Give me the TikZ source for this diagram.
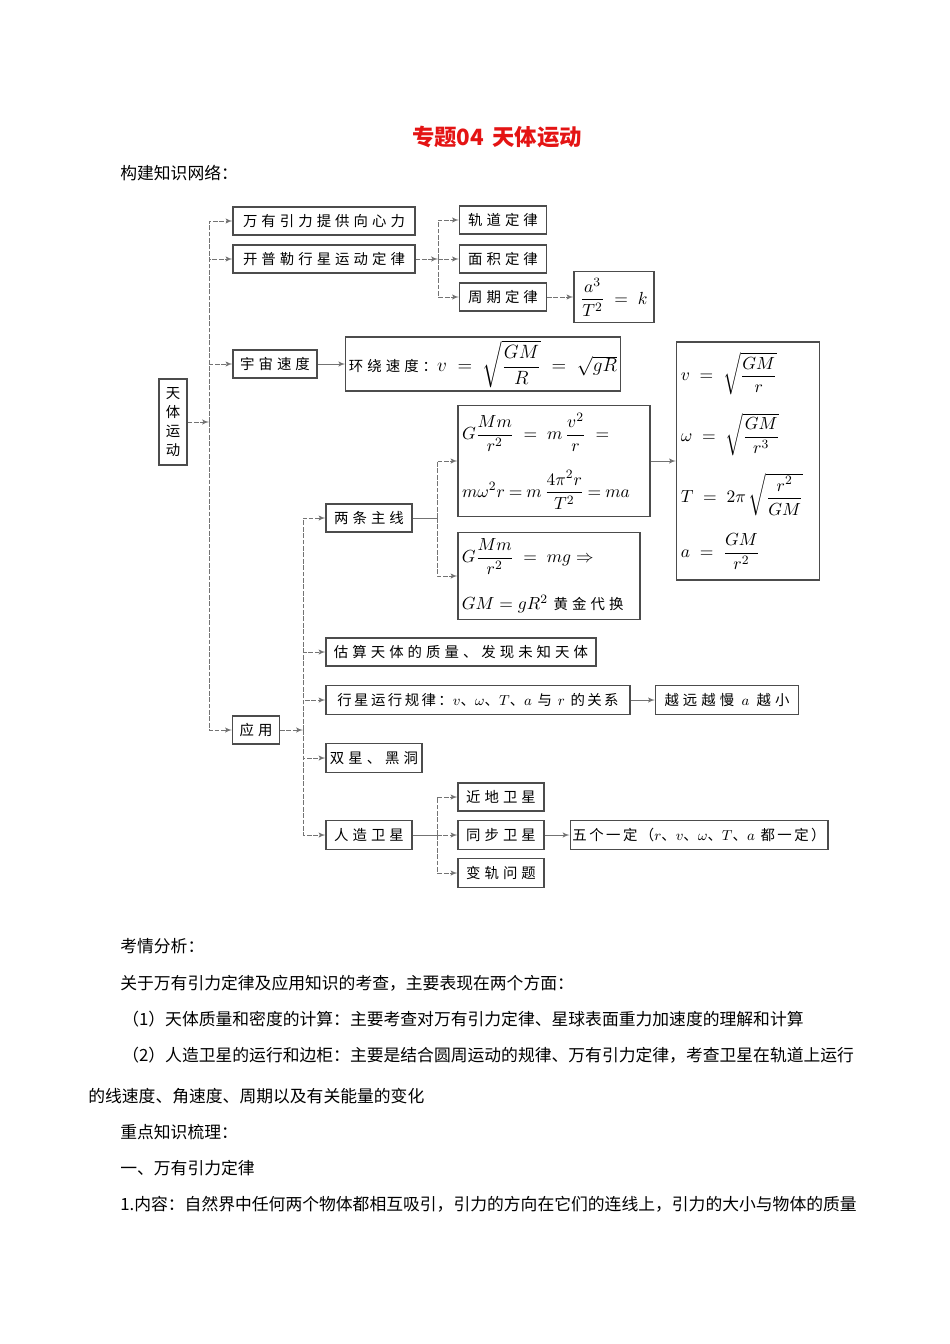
\documentclass[tikz,border=0pt]{standalone}
\usepackage{amsmath}
\usepackage{fontspec}
\setmainfont{Noto Sans CJK SC}
\newfontfamily\boxfont[LetterSpace=28]{Noto Sans CJK SC}
\newfontfamily\tightfont[LetterSpace=17]{Noto Sans CJK SC}
\usetikzlibrary{arrows, positioning, calc}
\definecolor{titlered}{RGB}{228,20,20}

\begin{document}
\begin{tikzpicture}[
        x=0.625pt, y=-0.625pt,
        wh/.style 2 args={minimum width=#1*0.625pt, minimum height=#2*0.625pt},
        box/.style={rectangle, draw=black!70, line width=0.7pt, inner sep=1.5pt, font=\boxfont\fontsize{9}{11}\selectfont},
        mbox/.style={rectangle, draw=black!70, line width=0.7pt, inner sep=2pt, align=left, font=\fontsize{11}{13}\selectfont},
        txt/.style={anchor=west, inner sep=0pt, font=\fontsize{10.5}{13}\selectfont},
        link/.style={draw=black!55, line width=0.5pt, dash pattern=on 3pt off 1pt, -latex'},
        solid link/.style={draw=black!55, line width=0.5pt, -latex'},
        bar/.style={draw=black!55, line width=0.5pt}
    ]
        \useasboundingbox (0,0) rectangle (950,1344);

        % heading
        \node[font=\fontsize{14}{16}\selectfont\bfseries, text=titlered] (title) at (497,137) {专题04\hspace{5pt}天体运动};
        \node[txt] (network) at (120,173) {构建知识网络：};

        % first level
        \node[box, wh={28}{86}, align=center, font=\fontsize{9}{12}\selectfont] (tianti) at (173,422) {天\\体\\运\\动};
        \node[box, wh={182}{28}] (wanyou) at (324,221) {万有引力提供向心力};
        \node[box, wh={182}{28}] (kepler) at (324,259) {开普勒行星运动定律};
        \node[box, wh={84}{28}] (yuzhou) at (275,364) {宇宙速度};
        \node[box, wh={47}{28}] (yingyong) at (256,730) {应用};

        % kepler laws
        \node[box, wh={87}{28}] (guidao) at (503,220) {轨道定律};
        \node[box, wh={87}{28}] (mianji) at (503,259) {面积定律};
        \node[box, wh={87}{28}] (zhouqi) at (503,297) {周期定律};
        \node[mbox, wh={80}{51}, align=center] (kepler3) at (614,297) {$\dfrac{a^3}{T^2}\;=\;k$};

        \node[mbox, wh={274}{54}, font=\fontsize{11.5}{13}\selectfont] (huanrao) at (483,364) {{\boxfont\fontsize{9}{11}\selectfont 环绕速度：}$v\;=\;\sqrt{\dfrac{GM}{R}}\;=\;\sqrt{gR}$};

        % two main lines
        \node[box, wh={86}{28}] (liangtiao) at (369,518) {两条主线};
        \node[mbox, wh={192}{111}, text width=115pt] (fbox1) at (554,461) {\mbox{$G\dfrac{Mm}{r^2}\;=\;m\,\dfrac{v^2}{r}\;=$}\\[11pt]\mbox{$\thickmuskip=4mu m\omega^2r=m\,\dfrac{4\pi^2r}{T^2}=ma$}};
        \node[mbox, wh={182}{87}, text width=109pt] (fbox2) at (549,576) {\mbox{$G\dfrac{Mm}{r^2}\;=\;mg\Rightarrow$}\\[12pt]\mbox{$GM=gR^2$ {\boxfont\fontsize{9}{11}\selectfont 黄金代换}}};
        \node[mbox, wh={143}{238}, text width=84pt] (bigbox) at (748,461) {\mbox{$v\;=\;\sqrt{\dfrac{GM}{r}}$}\\[10pt]\mbox{$\omega\;=\;\sqrt{\dfrac{GM}{r^3}}$}\\[10pt]\mbox{$T\;=\;2\pi\,\sqrt{\dfrac{r^2}{GM}}$}\\[10pt]\mbox{$a\;=\;\dfrac{GM}{r^2}$}};

        % applications
        \node[box, wh={270}{28}] (guxuan) at (461,652) {估算天体的质量、发现未知天体};
        \node[box, wh={304}{29}, font=\tightfont\fontsize{9}{11}\selectfont] (xingxing) at (478,700) {行星运行规律：$v$、$\omega$、$T$、$a$ 与 $r$ 的关系};
        \node[box, wh={143}{29}] (yueyuan) at (727,700) {越远越慢 $a$ 越小};
        \node[box, wh={96}{29}] (shuangxing) at (374,758) {双星、黑洞};
        \node[box, wh={86}{29}] (renzao) at (369,835) {人造卫星};
        \node[box, wh={86}{28}] (jindi) at (501,797) {近地卫星};
        \node[box, wh={86}{29}] (tongbu) at (501,835) {同步卫星};
        \node[box, wh={86}{29}] (biangui) at (501,873) {变轨问题};
        \node[box, wh={256}{29}, font=\tightfont\fontsize{9}{11}\selectfont] (wuge) at (699,835) {五个一定（$r$、$v$、$\omega$、$T$、$a$ 都一定）};

        % branch points
        \coordinate (hub) at (209,422);
        \coordinate (khub) at (438,259);
        \coordinate (ahub) at (303,730);
        \coordinate (lhub) at (437,518);
        \coordinate (shub) at (437,835);

        \draw[link] (tianti) -- (hub);
        \draw[link] (hub) |- (wanyou);
        \draw[link] (hub) |- (kepler);
        \draw[link] (hub) |- (yuzhou);
        \draw[link] (hub) |- (yingyong);

        \draw[link] (kepler) -- (khub);
        \draw[link] (khub) |- (guidao);
        \draw[link] (khub) -- (mianji);
        \draw[link] (khub) |- (zhouqi);
        \draw[link] (zhouqi) -- (kepler3);
        \draw[solid link] (yuzhou) -- (huanrao);

        \draw[link] (yingyong) -- (ahub);
        \draw[link] (ahub) |- (liangtiao);
        \draw[link] (ahub) |- (guxuan);
        \draw[link] (ahub) |- (xingxing);
        \draw[link] (ahub) |- (shuangxing);
        \draw[link] (ahub) |- (renzao);

        \draw[bar] (liangtiao) -- (lhub);
        \draw[link] (lhub) |- (fbox1);
        \draw[link] (lhub) |- (fbox2);
        \draw[solid link] (fbox1) -- (bigbox);
        \draw[solid link] (xingxing) -- (yueyuan);

        \draw[bar] (renzao) -- (shub);
        \draw[link] (shub) |- (jindi);
        \draw[link] (shub) -- (tongbu);
        \draw[link] (shub) |- (biangui);
        \draw[solid link] (tongbu) -- (wuge);

        % text below
        \node[txt] (kaoqing) at (120,946) {考情分析：};
        \node[txt] (guanyu) at (120,983) {关于万有引力定律及应用知识的考查，主要表现在两个方面：};
        \node[txt] (point1) at (122,1019) {（1）天体质量和密度的计算：主要考查对万有引力定律、星球表面重力加速度的理解和计算};
        \node[txt] (point2) at (122,1055) {（2）人造卫星的运行和边柜：主要是结合圆周运动的规律、万有引力定律，考查卫星在轨道上运行};
        \node[txt] (point2b) at (88,1096) {的线速度、角速度、周期以及有关能量的变化};
        \node[txt] (zhongdian) at (120,1132) {重点知识梳理：};
        \node[txt] (yi) at (120,1168) {一、万有引力定律};
        \node[txt] (neirong) at (120,1204) {1.内容：自然界中任何两个物体都相互吸引，引力的方向在它们的连线上，引力的大小与物体的质量};
    \end{tikzpicture}
\end{document}
